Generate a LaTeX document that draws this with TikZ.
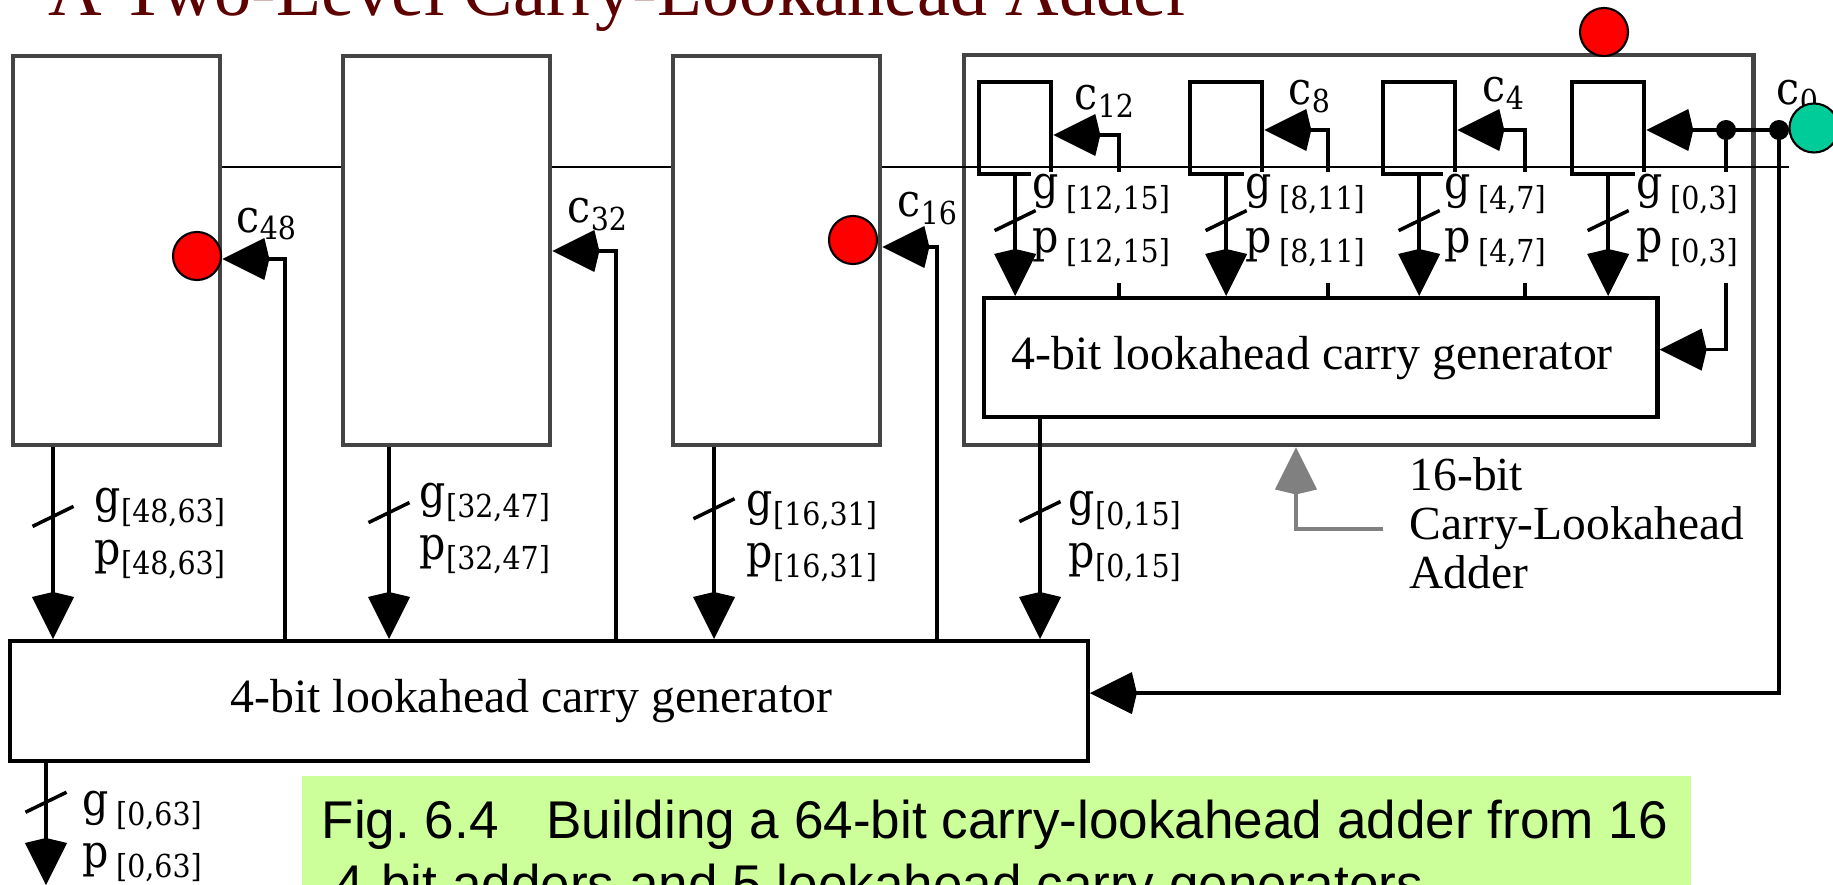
\documentclass[tikz,border=0pt]{standalone}
\usepackage{fontspec}
\setmainfont{Liberation Serif}
\newfontfamily\sigfont[FakeStretch=0.9]{DejaVu Serif}
\newfontfamily\capfont{Liberation Sans}
\usetikzlibrary{arrows.meta, decorations.markings}

\definecolor{boxgray}{RGB}{68,68,68}
\definecolor{titlered}{RGB}{92,0,0}
\definecolor{capgreen}{RGB}{204,255,153}
\definecolor{cinteal}{RGB}{0,204,153}
\definecolor{pointgray}{RGB}{128,128,128}

\newcommand{\idx}[2][3pt]{\raisebox{-#1}{\fontsize{9}{10}\selectfont #2}}

\tikzset{
    cladiagram/.style={x=0.01cm, y=-0.01cm, >={Kite[length=4.7mm, width=4.2mm, inset=0.5mm]}},
    adder/.style={draw=boxgray, line width=1.2pt, fill=white, anchor=north west, inner sep=0pt, minimum width=2.07cm, minimum height=3.89cm},
    cell/.style={draw, line width=1.2pt, anchor=north west, inner sep=0pt, minimum width=0.72cm, minimum height=0.92cm},
    clg/.style={draw, line width=1.2pt, fill=white, anchor=north west, inner sep=0pt, font=\fontsize{13.6}{16}\selectfont},
    wire/.style={line width=1pt},
    % slash across a line that carries several signals
    bus/.style={postaction={decorate, decoration={markings, mark=at position #1 with {\draw[-, line width=1pt] (0.1cm,-0.205cm) -- (-0.1cm,0.205cm);}}}},
    sig/.style={anchor=base west, inner sep=0pt, font=\sigfont\fontsize{13}{14}\selectfont},
    gp/.style={sig, fill=white, inner sep=0.6pt, text height=7pt, text depth=8.3pt},
    joint/.style={circle, fill, minimum size=0.2cm, inner sep=0pt},
    blob/.style={circle, draw, line width=0.6pt, minimum size=0.48cm, inner sep=0pt},
    pointer/.style={draw=pointgray, line width=1.2pt, ->},
}

\begin{document}
\begin{tikzpicture}[cladiagram]
    \useasboundingbox (0,0) rectangle (1833,885);
    \clip (0,0) rectangle (1833,885);

    \node[anchor=base west, inner sep=0pt, text=titlered, font=\fontsize{21.1}{24}\selectfont] (title) at (48,16) {A Two-Level Carry-Lookahead Adder};

    % adders and carry generators
    \node[adder] (addA) at (11,54) {};
    \node[adder] (addB) at (341,54) {};
    \node[adder] (addC) at (671,54) {};
    \node[adder, fill=none, minimum width=7.89cm, minimum height=3.9cm] (cla16) at (962,53) {};
    \node[cell] (s12) at (977,80) {};
    \node[cell] (s8) at (1188,80) {};
    \node[cell] (s4) at (1381,80) {};
    \node[cell] (s0) at (1570,80) {};
    \node[clg, minimum width=6.73cm, minimum height=1.19cm] (clg4) at (982,296) {4-bit lookahead carry generator\kern5pt};
    \node[clg, minimum width=10.77cm, minimum height=1.2cm] (clg) at (8,639) {4-bit lookahead carry generator\kern10pt};

    \coordinate (busR) at (1789,167);
    \draw[line width=0.8pt] (addA.east |- busR) -- (addB.west |- busR)
        (addB.east |- busR) -- (addC.west |- busR)
        (addC.east |- busR) -- (busR);

    \node[joint] (j1) at (1726,130) {};
    \node[joint] (j0) at (1779,130) {};

    % carries back to the adders
    \coordinate (k48) at (285,259);
    \coordinate (k32) at (616,251);
    \coordinate (k16) at (937,247);
    \coordinate (k12) at (1119,135);
    \coordinate (k8) at (1328,130);
    \coordinate (k4) at (1525,130);
    \draw[wire,->] (clg.north -| k48) -- (k48) -- (addA.east |- k48);
    \draw[wire,->] (clg.north -| k32) -- (k32) -- (addB.east |- k32);
    \draw[wire,->] (clg.north -| k16) -- (k16) -- (addC.east |- k16);
    \draw[wire,->] (clg4.north -| k12) -- (k12) -- (s12.east |- k12);
    \draw[wire,->] (clg4.north -| k8) -- (k8) -- (s8.east |- k8);
    \draw[wire,->] (clg4.north -| k4) -- (k4) -- (s4.east |- k4);
    \draw[wire,->] (j0.center) -- (s0.east |- j0);
    \draw[wire,->] (j1.center) |- ([yshift=0.08cm]clg4.east);
    \draw[wire,->] (j0.center) |- ([yshift=0.08cm]clg.east);

    \node[sig] (c48) at (236,232) {c\idx[2pt]{48}};
    \node[sig] (c32) at (567,223) {c\idx[2pt]{32}};
    \node[sig] (c16) at (897,217) {c\idx[2pt]{16}};
    \node[sig] (c12) at (1074,110) {c\idx[2pt]{12}};
    \node[sig] (c8) at (1288,105) {c\idx[2pt]{8}};
    \node[sig] (c4) at (1482,102) {c\idx[2pt]{4}};
    \node[sig] (c0) at (1776,105) {c\idx[2pt]{0}};

    \node[gp] (g12) at (1030,199) {g\hspace{2pt}\idx{[12,15]}};
    \node[gp] (p12) at (1030,252) {p\hspace{2pt}\idx{[12,15]}};
    \node[gp] (g8) at (1243,199) {g\hspace{2pt}\idx{[8,11]}};
    \node[gp] (p8) at (1243,252) {p\hspace{2pt}\idx{[8,11]}};
    \node[gp] (g4) at (1442,199) {g\hspace{2pt}\idx{[4,7]}};
    \node[gp] (p4) at (1442,252) {p\hspace{2pt}\idx{[4,7]}};
    \node[gp] (g0) at (1634,199) {g\hspace{2pt}\idx{[0,3]}};
    \node[gp] (p0) at (1634,252) {p\hspace{2pt}\idx{[0,3]}};

    \node[gp] (gA) at (92,512) {g\idx{[48,63]}};
    \node[gp] (pA) at (92,564) {p\idx{[48,63]}};
    \node[gp] (gB) at (417,507) {g\idx{[32,47]}};
    \node[gp] (pB) at (417,559) {p\idx{[32,47]}};
    \node[gp] (gC) at (744,515) {g\idx{[16,31]}};
    \node[gp] (pC) at (744,567) {p\idx{[16,31]}};
    \node[gp] (gD) at (1066,515) {g\idx{[0,15]}};
    \node[gp] (pD) at (1066,567) {p\idx{[0,15]}};
    \node[gp] (gall) at (80,815) {g\hspace{2pt}\idx{[0,63]}};
    \node[gp] (pall) at (80,867) {p\hspace{2pt}\idx{[0,63]}};

    % group generate / propagate signals
    \draw[wire,->,bus=0.37] (s12.south) -- (s12.south |- clg4.north);
    \draw[wire,->,bus=0.37] (s8.south) -- (s8.south |- clg4.north);
    \draw[wire,->,bus=0.37] (s4.south) -- (s4.south |- clg4.north);
    \draw[wire,->,bus=0.37] (s0.south) -- (s0.south |- clg4.north);

    \coordinate (oA) at (53,639);
    \coordinate (oB) at (389,639);
    \coordinate (oC) at (714,639);
    \coordinate (oD) at (1040,639);
    \coordinate (gpout) at (46,885);
    \draw[wire,->,bus=0.36] (addA.south -| oA) -- (oA);
    \draw[wire,->,bus=0.34] (addB.south -| oB) -- (oB);
    \draw[wire,->,bus=0.32] (addC.south -| oC) -- (oC);
    \draw[wire,->,bus=0.42] (clg4.south -| oD) -- (oD);
    \draw[wire,->,bus=0.32] (clg.south -| gpout) -- (gpout);

    \coordinate (ptail) at (1383,529);
    \coordinate (pbend) at (1296,529);
    \draw[pointer] (ptail) -- (pbend) -- (pbend |- cla16.south);
    \node[anchor=north west, inner sep=0pt, align=left, font=\fontsize{13.5}{13.9}\selectfont] (claname) at (1409,457) {16-bit\\Carry-Lookahead\\Adder};

    \node[blob, fill=red] (dotA) at (197,256) {};
    \node[blob, fill=red] (dotC) at (853,240) {};
    \node[blob, fill=red] (dotT) at (1604,32) {};
    \node[blob, fill=cinteal, minimum size=0.49cm] (cin) at (1814,128) {};

    \fill[capgreen] (302,776) rectangle (1691,885);
    \node[anchor=north west, inner sep=0pt, align=left, font=\capfont\fontsize{15.1}{18.4}\selectfont] (fig) at (321,799) {Fig.\ 6.4\hspace{13.5pt}Building a 64-bit carry-lookahead adder from 16\\\hspace*{3.5pt}4-bit adders and 5 lookahead carry generators};
\end{tikzpicture}
\end{document}
